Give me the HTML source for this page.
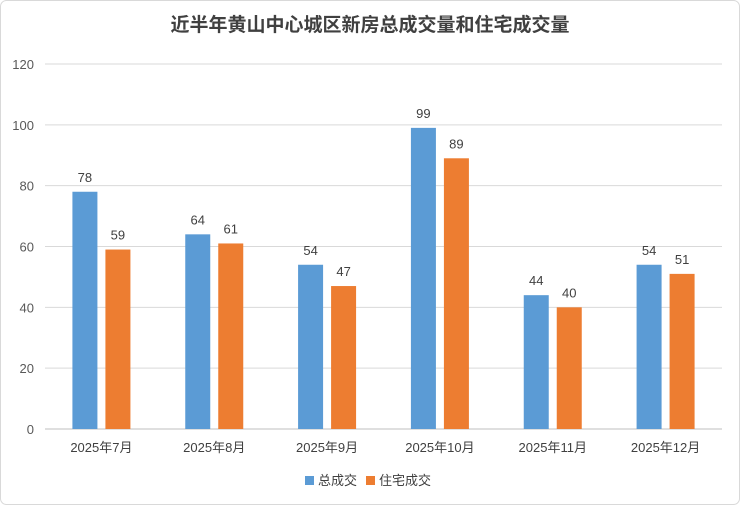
<!DOCTYPE html>
<html><head><meta charset="utf-8"><style>
body{margin:0;background:#fff;}
svg text{font-family:"Liberation Sans","Noto Sans CJK SC",sans-serif;}
</style></head><body>
<svg width="740" height="505" xmlns="http://www.w3.org/2000/svg">
<rect x="0.5" y="0.5" width="739" height="504" rx="6" fill="#fff" stroke="#d9d9d9"/>
<text x="370" y="31" text-anchor="middle" font-size="19" font-weight="bold" fill="#404040">近半年黄山中心城区新房总成交量和住宅成交量</text>
<g id="grid"></g><g id="bars"></g><g id="xl"></g>
<g>
<rect x="305" y="476" width="9" height="9" fill="#5b9bd5"/>
<text x="318" y="485" font-size="13" fill="#404040">总成交</text>
<rect x="366" y="476" width="9" height="9" fill="#ed7d31"/>
<text x="379" y="485" font-size="13" fill="#404040">住宅成交</text>
</g>
</svg>
<script>
const categories=["2025年7月","2025年8月","2025年9月","2025年10月","2025年11月","2025年12月"];
const totalValues=[78,64,54,99,44,54];
const residentialValues=[59,61,47,89,40,51];
const yTicks=[0,20,40,60,80,100,120];
const NS="http://www.w3.org/2000/svg";
const x0=45,x1=722,yTop=64,yBot=429,yMax=120;
const y=v=>yBot-(v/yMax)*(yBot-yTop);
const step=(x1-x0)/categories.length;
const cx=i=>x0+step*(i+0.5);
function mk(t,a,p){const e=document.createElementNS(NS,t);for(const k in a)e.setAttribute(k,a[k]);p.appendChild(e);return e;}
const grid=document.getElementById('grid'),bars=document.getElementById('bars'),xl=document.getElementById('xl');
yTicks.forEach(t=>{
 const l=mk('line',{x1:x0,x2:x1,y1:y(t),y2:y(t),stroke:t===0?'#bfbfbf':'#d9d9d9','stroke-width':1},grid);
 
 
 const tx=mk('text',{x:34,y:y(t)+5,'text-anchor':'end','font-size':13,fill:'#595959'},grid);
 tx.textContent=t;
 
 
});
const bw=25,gap=8;
categories.forEach((c,i)=>{
 [[totalValues[i],'#5b9bd5',-1,'total'],[residentialValues[i],'#ed7d31',1,'residential']].forEach(([v,col,s,n])=>{
  const bx=s<0?cx(i)-gap/2-bw:cx(i)+gap/2;
  const r=mk('rect',{x:bx,y:y(v),width:bw,height:yBot-y(v),fill:col},bars);
  
  
  const t=mk('text',{x:bx+bw/2,y:y(v)-10,'text-anchor':'middle','font-size':13,fill:'#404040'},bars);
  t.textContent=v;
  
  
 });
 const t=mk('text',{x:cx(i),y:452,'text-anchor':'middle','font-size':13,fill:'#404040'},xl);
 t.textContent=c;
 
 
});
</script>
</body></html>
